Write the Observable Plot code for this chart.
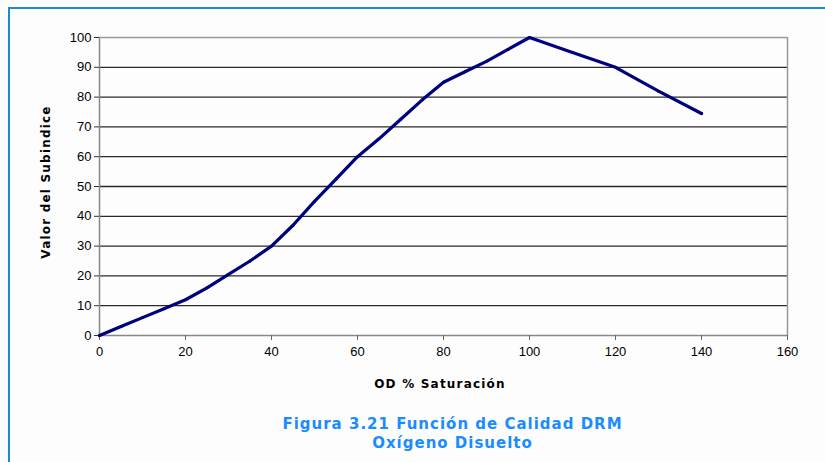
<!DOCTYPE html>
<html>
<head>
<meta charset="utf-8">
<script src="https://cdn.jsdelivr.net/npm/d3@7"></script>
<script src="https://cdn.jsdelivr.net/npm/@observablehq/plot@0.6"></script>
<style>
  html, body { margin: 0; padding: 0; background: #fdfdfd; }
  #wrap { position: relative; width: 825px; height: 462px; overflow: hidden; background: #fdfdfd; }
  #btop { position: absolute; left: 8px; top: 7px; width: 817px; height: 2px; background: #1c8ad6; }
  #bleft { position: absolute; left: 8px; top: 7px; width: 2px; height: 455px; background: #1c8ad6; }
  #chart { position: absolute; left: 0; top: 0; }
  #title { position: absolute; left: 0; width: 905px; top: 415px; text-align: center;
           font-family: "DejaVu Sans", Verdana, sans-serif; font-weight: bold; font-size: 15px;
           letter-spacing: 1px; line-height: 19px; color: #1a8cff; }
</style>
</head>
<body>
<div id="wrap">
  <div id="btop"></div>
  <div id="bleft"></div>
  <div id="chart"></div>
  <div id="title">Figura 3.21 Función de Calidad DRM<br>Oxígeno Disuelto</div>
</div>
<script>
const saturation = [0, 5, 10, 15, 20, 25, 30, 35, 40, 45, 50, 55, 60, 65, 70, 75, 80, 85, 90, 95, 100, 110, 120, 130, 140];
const subindex   = [0, 3, 6, 9, 12, 16, 20.5, 25, 30, 37, 45, 52.5, 60, 66, 72.5, 79, 85, 88.5, 92, 96, 100, 95, 90, 82, 74.5];
const xTicks = [0, 20, 40, 60, 80, 100, 120, 140, 160];
const yTicks = [0, 10, 20, 30, 40, 50, 60, 70, 80, 90, 100];
const gridTicks = [10, 20, 30, 40, 50, 60, 70, 80, 90];

const data = saturation.map((x, i) => ({x, y: subindex[i]}));

const chart = Plot.plot({
  width: 825,
  height: 400,
  marginLeft: 99,
  marginRight: 38,
  marginTop: 37,
  marginBottom: 65,
  style: {background: "transparent", fontFamily: "'Liberation Sans', Arial, sans-serif", fontSize: "13px", color: "#000"},
  x: {domain: [0, 160], ticks: xTicks, tickSize: 5, tickPadding: 6, label: null},
  y: {domain: [0, 100], ticks: yTicks, tickSize: 5, tickPadding: 3, label: null},
  marks: [
    Plot.ruleY(gridTicks, {stroke: "#2a2a2a", strokeWidth: 1.3}),
    Plot.ruleY([100], {stroke: "#999", strokeWidth: 1.5}),
    Plot.ruleX([160], {stroke: "#999", strokeWidth: 1.5}),
    Plot.ruleX([0], {stroke: "#888", strokeWidth: 1.5}),
    Plot.ruleY([0], {stroke: "#888", strokeWidth: 1.5}),
    Plot.axisX({ticks: xTicks, tickSize: 5, tickPadding: 6, stroke: "#666", fontSize: 13}),
    Plot.axisY({ticks: yTicks, tickSize: 5, tickPadding: 3, stroke: "#333", fontSize: 13}),
    Plot.line(data, {x: "x", y: "y", stroke: "#00007f", strokeWidth: 3.2, strokeLinejoin: "round", strokeLinecap: "round"}),
    Plot.dot(data, {x: "x", y: "y", r: 1.5, fill: "#00007f"})
  ]
});

// axis titles
const svg = d3.select(chart);
svg.append("text")
  .attr("x", 440).attr("y", 388)
  .attr("text-anchor", "middle")
  .attr("font-family", "'DejaVu Sans', Verdana, sans-serif")
  .attr("font-weight", "bold").attr("font-size", "12px").attr("letter-spacing", "1.2px").attr("fill", "#000")
  .text("OD % Saturación");
svg.append("text")
  .attr("transform", "translate(50,182) rotate(-90)")
  .attr("text-anchor", "middle")
  .attr("font-family", "'DejaVu Sans', Verdana, sans-serif")
  .attr("font-weight", "bold").attr("font-size", "12px").attr("letter-spacing", "1.2px").attr("fill", "#000")
  .text("Valor del Subindice");

document.getElementById("chart").appendChild(chart);
</script>
</body>
</html>
